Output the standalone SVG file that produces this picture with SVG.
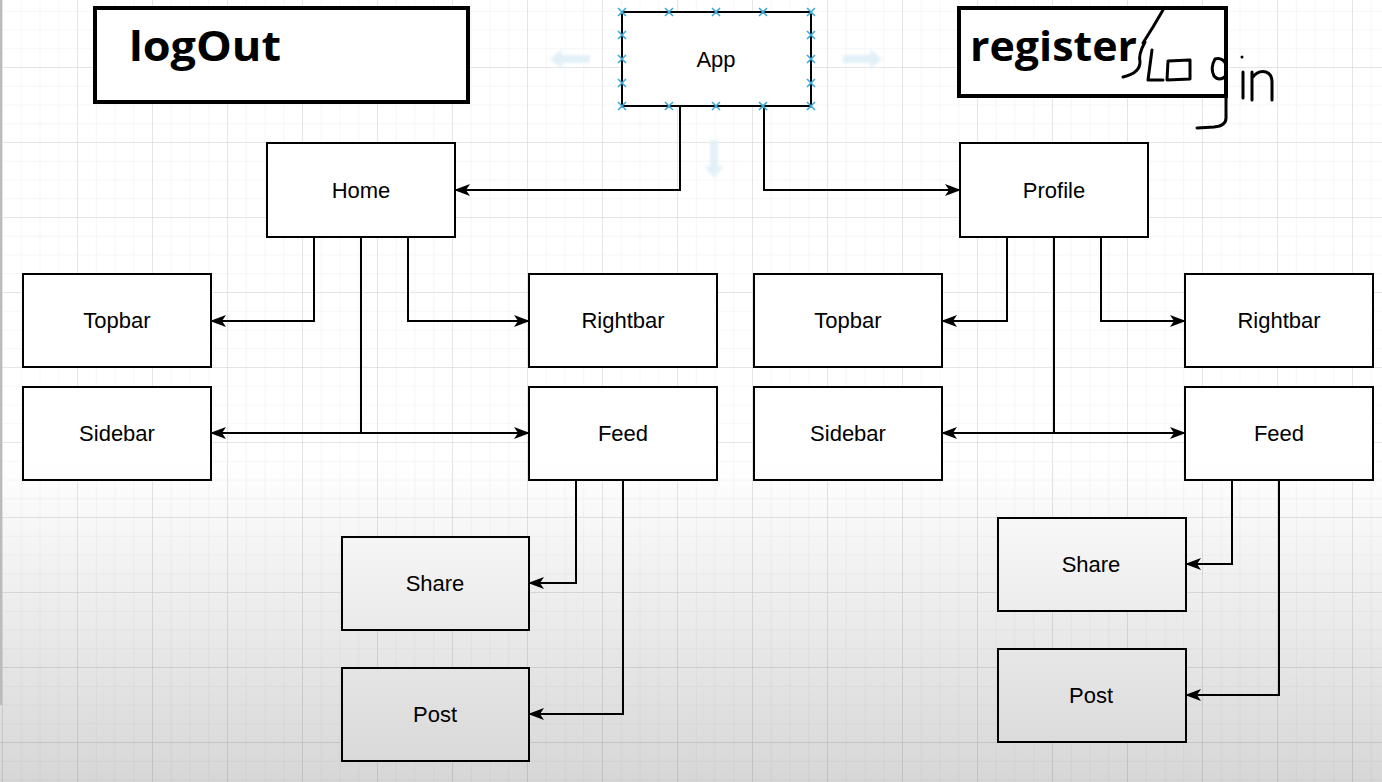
<svg xmlns="http://www.w3.org/2000/svg" width="1382" height="782" viewBox="0 0 1382 782">
<defs>
<pattern id="minor" width="18.75" height="18.75" patternUnits="userSpaceOnUse" x="2" y="-8">
<path d="M0 0H18.75M0 0V18.75" fill="none" stroke="#eeeeee" stroke-width="1"/>
</pattern>
<pattern id="major" width="75" height="75" patternUnits="userSpaceOnUse" x="2" y="-8">
<path d="M0 0H75M0 0V75" fill="none" stroke="#d4d4d4" stroke-width="1"/>
</pattern>
<linearGradient id="shade" x1="0" y1="0" x2="0" y2="1">
<stop offset="0" stop-color="#000" stop-opacity="0"/>
<stop offset="1" stop-color="#000" stop-opacity="0.16"/>
</linearGradient>
<filter id="blur" x="-20%" y="-20%" width="140%" height="140%"><feGaussianBlur stdDeviation="1.5"/></filter>
<marker id="arr" markerWidth="16" markerHeight="12" viewBox="0 0 16 12" refX="15" refY="6" orient="auto" markerUnits="userSpaceOnUse">
<path d="M0 0 L16 6 L0 12 L4 6 Z" fill="#000"/>
</marker>
</defs>
<style>
.box{fill:#fff;stroke:#000;stroke-width:2}
.lbl{font-family:"Liberation Sans",Arial,sans-serif;font-size:22px;fill:#000;text-anchor:middle;dominant-baseline:central}
.big{fill:#fff;stroke:#000;stroke-width:4}
.title{font-family:"Open Sans","Noto Sans",sans-serif;font-weight:bold;font-size:42px;fill:#000}
.con{fill:none;stroke:#000;stroke-width:2}
.hd{fill:none;stroke:#000;stroke-width:3;stroke-linecap:round;stroke-linejoin:round}
.h{stroke:#3fa9d6;stroke-width:1.6}
.ghost{fill:#e2f0f8}
</style>
<rect width="1382" height="782" fill="#fff"/>
<rect width="1382" height="782" fill="url(#minor)"/>
<rect width="1382" height="782" fill="url(#major)"/>

<g id="ghost-arrows" filter="url(#blur)">
<path class="ghost" d="M550 59 L562 49 L562 55 L590 55 L590 63 L562 63 L562 69 Z"/>
<path class="ghost" d="M882 59 L870 49 L870 55 L843 55 L843 63 L870 63 L870 69 Z"/>
<path class="ghost" d="M714 178 L704 166 L710 166 L710 140 L718 140 L718 166 L724 166 Z"/>
</g>

<g id="logOut">
<rect class="big" x="95" y="8" width="373" height="94"/>
<text class="title" x="129" y="61" textLength="152" lengthAdjust="spacingAndGlyphs">logOut</text>
</g>

<g id="register">
<rect class="big" x="959" y="8" width="267" height="88"/>
<text class="title" x="970" y="61" textLength="167" lengthAdjust="spacingAndGlyphs">register</text>
<path class="hd" d="M1163 10 L1153 27 L1143 43"/>
<path class="hd" d="M1145 42 Q1138 55 1140 62 Q1140 73 1123 77"/>
<path class="hd" d="M1152 50 L1148 80 L1163 80"/>
<path class="hd" d="M1168 61 L1190 60 L1190 79 L1167 80 Z"/>
<path class="hd" d="M1226 64 Q1222 57 1215 59 Q1210 68 1214 76 Q1219 82 1226 76 M1226 58 L1226 118 Q1226 126 1214 127 L1197 128"/>
<circle cx="1242" cy="57" r="1.5" fill="#000"/>
<path class="hd" d="M1243 72 L1243 98"/>
<path class="hd" d="M1252 72 L1252 100 M1252 78 Q1258 70 1266 72 Q1272 74 1272 82 L1272 100"/>
</g>

<g id="connectors">
<path class="con" d="M680 106 V190 H455" marker-end="url(#arr)"/>
<path class="con" d="M764 106 V190 H960" marker-end="url(#arr)"/>
<path class="con" d="M314 237 V321 H211" marker-end="url(#arr)"/>
<path class="con" d="M408 237 V321 H529" marker-end="url(#arr)"/>
<path class="con" d="M361 237 V433 H211" marker-end="url(#arr)"/>
<path class="con" d="M361 433 H529" marker-end="url(#arr)"/>
<path class="con" d="M576 480 V583 H529" marker-end="url(#arr)"/>
<path class="con" d="M623 480 V714 H529" marker-end="url(#arr)"/>
<path class="con" d="M1007 237 V321 H942" marker-end="url(#arr)"/>
<path class="con" d="M1101 237 V321 H1185" marker-end="url(#arr)"/>
<path class="con" d="M1054 237 V433 H942" marker-end="url(#arr)"/>
<path class="con" d="M1054 433 H1185" marker-end="url(#arr)"/>
<path class="con" d="M1232 480 V564 H1186" marker-end="url(#arr)"/>
<path class="con" d="M1279 480 V695 H1186" marker-end="url(#arr)"/>
</g>

<g id="app">
<rect class="box" x="622" y="12" width="189" height="94"/>
<text class="lbl" x="716" y="59">App</text>
<g class="h">
<path d="M618 8l8 8M626 8l-8 8M665 8l8 8M673 8l-8 8M712 8l8 8M720 8l-8 8M759 8l8 8M767 8l-8 8M807 8l8 8M815 8l-8 8"/>
<path d="M618 102l8 8M626 102l-8 8M665 102l8 8M673 102l-8 8M712 102l8 8M720 102l-8 8M759 102l8 8M767 102l-8 8M807 102l8 8M815 102l-8 8"/>
<path d="M618 31l8 8M626 31l-8 8M618 55l8 8M626 55l-8 8M618 79l8 8M626 79l-8 8"/>
<path d="M807 31l8 8M815 31l-8 8M807 55l8 8M815 55l-8 8M807 79l8 8M815 79l-8 8"/>
</g>
</g>

<g id="home"><rect class="box" x="267" y="143" width="188" height="94"/><text class="lbl" x="361" y="190">Home</text></g>
<g id="profile"><rect class="box" x="960" y="143" width="188" height="94"/><text class="lbl" x="1054" y="190">Profile</text></g>
<g id="topbar-l"><rect class="box" x="23" y="274" width="188" height="93"/><text class="lbl" x="117" y="320">Topbar</text></g>
<g id="rightbar-l"><rect class="box" x="529" y="274" width="188" height="93"/><text class="lbl" x="623" y="320">Rightbar</text></g>
<g id="sidebar-l"><rect class="box" x="23" y="387" width="188" height="93"/><text class="lbl" x="117" y="433">Sidebar</text></g>
<g id="feed-l"><rect class="box" x="529" y="387" width="188" height="93"/><text class="lbl" x="623" y="433">Feed</text></g>
<g id="topbar-r"><rect class="box" x="754" y="274" width="188" height="93"/><text class="lbl" x="848" y="320">Topbar</text></g>
<g id="rightbar-r"><rect class="box" x="1185" y="274" width="188" height="93"/><text class="lbl" x="1279" y="320">Rightbar</text></g>
<g id="sidebar-r"><rect class="box" x="754" y="387" width="188" height="93"/><text class="lbl" x="848" y="433">Sidebar</text></g>
<g id="feed-r"><rect class="box" x="1185" y="387" width="188" height="93"/><text class="lbl" x="1279" y="433">Feed</text></g>
<g id="share-l"><rect class="box" x="342" y="537" width="187" height="93"/><text class="lbl" x="435" y="583">Share</text></g>
<g id="post-l"><rect class="box" x="342" y="668" width="187" height="93"/><text class="lbl" x="435" y="714">Post</text></g>
<g id="share-r"><rect class="box" x="998" y="518" width="188" height="93"/><text class="lbl" x="1091" y="564">Share</text></g>
<g id="post-r"><rect class="box" x="998" y="649" width="188" height="93"/><text class="lbl" x="1091" y="695">Post</text></g>

<rect x="0" y="460" width="1382" height="322" fill="url(#shade)"/>
<rect x="0" y="0" width="2" height="705" fill="#bbb"/>
</svg>
